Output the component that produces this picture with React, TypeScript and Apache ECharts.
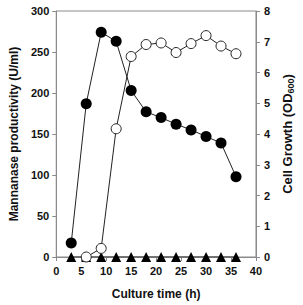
import React, { useEffect, useRef } from "react";
import * as echarts from "echarts";

const hours = [3, 6, 9, 12, 15, 18, 21, 24, 27, 30, 33, 36];
const mannanase = [17, 187, 274, 263, 203, 177, 170, 162, 155, 147, 139, 98];
const cellGrowth = [null, 0, 0.28, 4.17, 6.52, 6.91, 6.96, 6.65, 6.94, 7.2, 6.86, 6.61];
const control = [0, 0, 0, 0, 0, 0, 0, 0, 0, 0, 0, 0];

const xTicks = { min: 0, max: 40, interval: 5 };
const leftTicks = { min: 0, max: 300, interval: 50 };
const rightTicks = { min: 0, max: 8, interval: 1 };

const FONT = "Liberation Sans, Arial, sans-serif";

export default function App() {
  const ref = useRef<HTMLDivElement>(null);
  useEffect(() => {
    if (!ref.current) return;
    const chart = echarts.init(ref.current, null, { renderer: "svg" });
    const axisLine = { show: true, lineStyle: { color: "#8a8a8a", width: 1 } };
    const axisTick = { show: true, length: 4, lineStyle: { color: "#8a8a8a" } };
    const labelStyle = { fontFamily: FONT, fontWeight: "bold" as const, fontSize: 11, color: "#111" };
    const nameStyle = { fontFamily: FONT, fontWeight: "bold" as const, fontSize: 12, color: "#111" };
    const rightName = { ...nameStyle, fontSize: 13 };
    chart.setOption({
      animation: false,
      grid: { left: 46, right: 31, top: 11, bottom: 43, show: true, borderColor: "#8a8a8a", borderWidth: 1 },
      xAxis: {
        type: "value",
        ...xTicks,
        axisLine,
        axisTick,
        splitLine: { show: false },
        axisLabel: { ...labelStyle, margin: 8 },
        name: "Culture time (h)",
        nameLocation: "middle",
        nameGap: 31,
        nameTextStyle: nameStyle,
      },
      yAxis: [
        {
          type: "value",
          ...leftTicks,
          axisLine,
          axisTick,
          splitLine: { show: false },
          axisLabel: { ...labelStyle, margin: 7 },
          name: "Mannanase productivity (U/ml)",
          nameLocation: "middle",
          nameRotate: 90,
          nameGap: 27,
          nameTextStyle: nameStyle,
        },
        {
          type: "value",
          position: "right",
          ...rightTicks,
          axisLine,
          axisTick,
          splitLine: { show: false },
          axisLabel: { ...labelStyle, margin: 8 },
          name: "{a|Cell Growth (OD}{b|600}{a|)}",
          nameLocation: "middle",
          nameRotate: 90,
          nameGap: 19,
          nameTextStyle: {
            ...rightName,
            rich: {
              a: { ...rightName },
              b: { ...rightName, fontSize: 9, padding: [6, 0, 0, 0] },
            },
          },
        },
      ],
      series: [
        {
          type: "line",
          yAxisIndex: 0,
          data: hours.map((h, i) => [h, control[i]]),
          symbol: "triangle",
          symbolSize: 10,
          itemStyle: { color: "#000" },
          lineStyle: { color: "#222", width: 1 },
        },
        {
          type: "line",
          yAxisIndex: 0,
          data: hours.map((h, i) => [h, mannanase[i]]),
          symbol: "circle",
          symbolSize: 11,
          itemStyle: { color: "#000" },
          lineStyle: { color: "#222", width: 1 },
        },
        {
          type: "line",
          yAxisIndex: 1,
          data: hours.map((h, i) => [h, cellGrowth[i]]).filter((d) => d[1] !== null),
          symbol: "circle",
          symbolSize: 10,
          itemStyle: { color: "#fff", borderColor: "#222", borderWidth: 1 },
          lineStyle: { color: "#222", width: 1 },
        },
      ],
    });
    return () => chart.dispose();
  }, []);
  return <div ref={ref} style={{ width: 303, height: 305, position: "absolute", left: 0, top: 0 }} />;
}
